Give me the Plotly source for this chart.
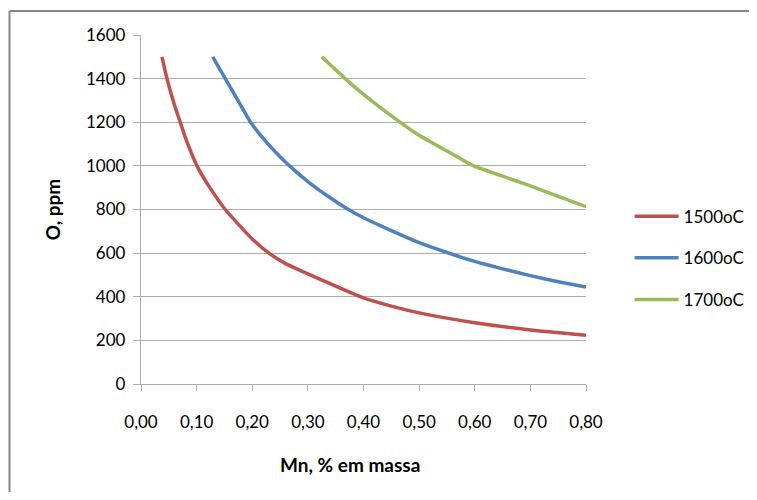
import plotly.graph_objects as go

# Data
mn_1500 = [0.0377, 0.0467, 0.06, 0.0706, 0.08, 0.1006, 0.12, 0.1515, 0.20, 0.23, 0.26, 0.30, 0.34, 0.40, 0.45, 0.50, 0.60, 0.70, 0.80]
o_1500 = [1500, 1400, 1280, 1200, 1128, 1000, 915, 800, 665, 600, 552, 505, 460, 395, 357, 326, 281, 248, 224]

mn_1600 = [0.129, 0.1515, 0.175, 0.197, 0.225, 0.25, 0.267, 0.30, 0.34, 0.373, 0.40, 0.45, 0.50, 0.55, 0.60, 0.65, 0.70, 0.75, 0.80]
o_1600 = [1500, 1400, 1297, 1200, 1110, 1042, 1000, 928, 854, 800, 762, 703, 648, 603, 562, 528, 497, 469, 444]

mn_1700 = [0.325, 0.345, 0.367, 0.40, 0.463, 0.50, 0.55, 0.598, 0.65, 0.70, 0.75, 0.80]
o_1700 = [1500, 1452, 1400, 1328, 1205, 1140, 1068, 1000, 953, 908, 860, 813]

series_names = ["1500oC", "1600oC", "1700oC"]
series_colors = ["#C0504D", "#4F81BD", "#9BBB59"]

x_tickvals = [0.0, 0.1, 0.2, 0.3, 0.4, 0.5, 0.6, 0.7, 0.8]
x_ticktext = ["0,00", "0,10", "0,20", "0,30", "0,40", "0,50", "0,60", "0,70", "0,80"]
y_tickvals = [0, 200, 400, 600, 800, 1000, 1200, 1400, 1600]

x_title = "Mn, % em massa"
y_title = "O, ppm"

FONT = "Lato, 'Liberation Sans', Arial, sans-serif"
GRID = "#ADADAD"
BORDER = "#868686"

fig = go.Figure()
for i, (xs, ys) in enumerate([(mn_1500, o_1500), (mn_1600, o_1600), (mn_1700, o_1700)]):
    fig.add_trace(go.Scatter(
        x=xs, y=ys, mode="lines", name=series_names[i],
        line=dict(color=series_colors[i], width=3.5, shape="spline", smoothing=0.5),
        legendgroup=series_names[i],
    ))

fig.update_layout(
    width=741, height=484,
    margin=dict(l=133, r=163, t=27, b=108, autoexpand=False),
    paper_bgcolor="white", plot_bgcolor="white",
    font=dict(family=FONT, size=17, color="#000000"),
    showlegend=True,
    legend=dict(
        x=1.098, xanchor="left", y=0.531, yanchor="top",
        font=dict(family=FONT, size=17, color="#000000"),
        traceorder="grouped", tracegroupgap=16.5,
        itemwidth=44,
        bgcolor="rgba(0,0,0,0)",
    ),
    xaxis=dict(
        range=[0, 0.8], tickvals=x_tickvals, ticktext=x_ticktext,
        showgrid=False, zeroline=False, automargin=False,
        showline=True, linecolor=GRID, linewidth=1.3,
        ticks="outside", ticklen=6, tickcolor=GRID, tickwidth=1.3,
        ticklabelstandoff=16,
    ),
    yaxis=dict(
        range=[0, 1600], tickvals=y_tickvals, automargin=False,
        showgrid=True, gridcolor=GRID, gridwidth=1.3, zeroline=False,
        showline=True, linecolor=GRID, linewidth=1.3,
        ticks="outside", ticklen=7, tickcolor=GRID, tickwidth=1.3,
        ticklabelstandoff=4,
        title=dict(text="<b>" + y_title + "</b>", font=dict(family=FONT, size=19), standoff=20),
    ),
    annotations=[dict(
        text="<b>" + x_title + "</b>", xref="paper", yref="paper",
        x=0.47, y=-0.232, xanchor="center", yanchor="middle",
        showarrow=False, font=dict(family=FONT, size=19, color="#000000"),
    )],
    shapes=[
        dict(type="line", xref="paper", yref="paper",
             x0=-0.2955, x1=2.0, y0=1.0688, y1=1.0688,
             line=dict(color=BORDER, width=2), layer="below"),
        dict(type="line", xref="paper", yref="paper",
             x0=-0.2955, x1=-0.2955, y0=-1.0, y1=1.0688,
             line=dict(color=BORDER, width=2), layer="below"),
    ],
)

fig.write_html("out.html")
